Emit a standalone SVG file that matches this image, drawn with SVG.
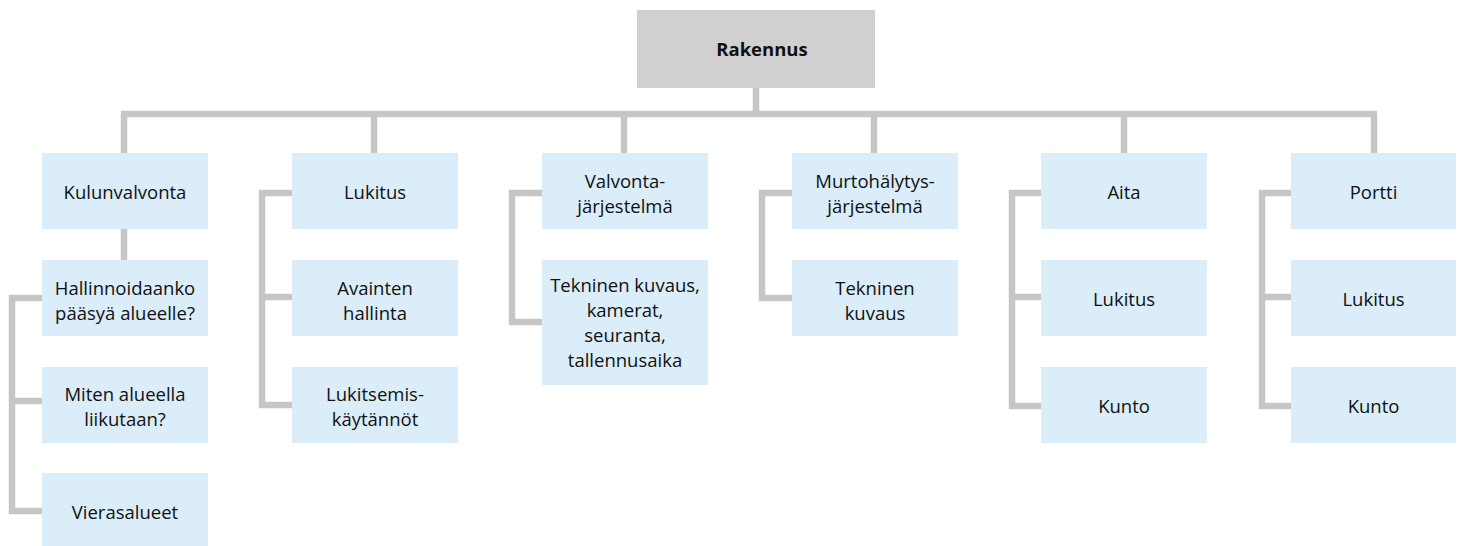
<svg xmlns="http://www.w3.org/2000/svg" width="1461" height="546" viewBox="0 0 1461 546">
  <style>
    .box { fill: #daedf9; }
    .root { fill: #d0d0d0; }
    .t { font-family: "Open Sans", "Noto Sans", "Liberation Sans", sans-serif; font-size: 18.5px; fill: #111111; text-anchor: middle; }
    .tb { font-family: "Open Sans", "Noto Sans", "Liberation Sans", sans-serif; font-size: 18.5px; font-weight: bold; fill: #111111; text-anchor: middle; }
    .c { fill: none; stroke: #c6c6c6; stroke-width: 6.5; stroke-linejoin: miter; stroke-linecap: butt; }
  </style>
  <rect width="1461" height="546" fill="#ffffff"/>

  <g id="connectors">
    <path class="c" d="M756 88 V114"/>
    <path class="c" d="M121 114 H1377"/>
    <path class="c" d="M124 114 V153 M374 114 V153 M624 114 V153 M874 114 V153 M1124 114 V153 M1374 114 V153"/>
    <path class="c" d="M124 229 V260"/>
    <path class="c" d="M42 298 H12 V511 H42"/>
    <path class="c" d="M12 401 H42"/>
    <path class="c" d="M292 193 H262 V405 H292"/>
    <path class="c" d="M262 297 H292"/>
    <path class="c" d="M542 193 H512 V322 H542"/>
    <path class="c" d="M792 193 H762 V298 H792"/>
    <path class="c" d="M1041 193 H1012 V406 H1041"/>
    <path class="c" d="M1012 297 H1041"/>
    <path class="c" d="M1291 193 H1262 V406 H1291"/>
    <path class="c" d="M1262 297 H1291"/>
  </g>

  <g id="n-rakennus">
    <rect class="root" x="637" y="10" width="238" height="78"/>
    <text class="tb" x="762" y="56">Rakennus</text>
  </g>

  <g id="n-kulunvalvonta">
    <rect class="box" x="42" y="153" width="166" height="76"/>
    <text class="t" x="125" y="199">Kulunvalvonta</text>
  </g>
  <g id="n-hallinnoidaanko">
    <rect class="box" x="42" y="260" width="166" height="76"/>
    <text class="t" x="125" y="295">Hallinnoidaanko</text>
    <text class="t" x="125" y="319.5">pääsyä alueelle?</text>
  </g>
  <g id="n-miten">
    <rect class="box" x="42" y="367" width="166" height="76"/>
    <text class="t" x="125" y="401">Miten alueella</text>
    <text class="t" x="125" y="425.5">liikutaan?</text>
  </g>
  <g id="n-vierasalueet">
    <rect class="box" x="42" y="473" width="166" height="76"/>
    <text class="t" x="125" y="519">Vierasalueet</text>
  </g>

  <g id="n-lukitus">
    <rect class="box" x="292" y="153" width="166" height="76"/>
    <text class="t" x="375" y="199">Lukitus</text>
  </g>
  <g id="n-avainten">
    <rect class="box" x="292" y="260" width="166" height="76"/>
    <text class="t" x="375" y="295">Avainten</text>
    <text class="t" x="375" y="319.5">hallinta</text>
  </g>
  <g id="n-lukitsemis">
    <rect class="box" x="292" y="367" width="166" height="76"/>
    <text class="t" x="375" y="401">Lukitsemis-</text>
    <text class="t" x="375" y="425.5">käytännöt</text>
  </g>

  <g id="n-valvonta">
    <rect class="box" x="542" y="153" width="166" height="76"/>
    <text class="t" x="625" y="188">Valvonta-</text>
    <text class="t" x="625" y="212.5">järjestelmä</text>
  </g>
  <g id="n-tekninen1">
    <rect class="box" x="542" y="260" width="166" height="125"/>
    <text class="t" x="625" y="291.7">Tekninen kuvaus,</text>
    <text class="t" x="625" y="316.7">kamerat,</text>
    <text class="t" x="625" y="341.7">seuranta,</text>
    <text class="t" x="625" y="366.7">tallennusaika</text>
  </g>

  <g id="n-murto">
    <rect class="box" x="792" y="153" width="166" height="76"/>
    <text class="t" x="875" y="188">Murtohälytys-</text>
    <text class="t" x="875" y="212.5">järjestelmä</text>
  </g>
  <g id="n-tekninen2">
    <rect class="box" x="792" y="260" width="166" height="76"/>
    <text class="t" x="875" y="295">Tekninen</text>
    <text class="t" x="875" y="319.5">kuvaus</text>
  </g>

  <g id="n-aita">
    <rect class="box" x="1041" y="153" width="166" height="76"/>
    <text class="t" x="1124" y="199">Aita</text>
  </g>
  <g id="n-aita-lukitus">
    <rect class="box" x="1041" y="260" width="166" height="76"/>
    <text class="t" x="1124" y="306">Lukitus</text>
  </g>
  <g id="n-aita-kunto">
    <rect class="box" x="1041" y="367" width="166" height="76"/>
    <text class="t" x="1124" y="413">Kunto</text>
  </g>

  <g id="n-portti">
    <rect class="box" x="1291" y="153" width="165" height="76"/>
    <text class="t" x="1373.5" y="199">Portti</text>
  </g>
  <g id="n-portti-lukitus">
    <rect class="box" x="1291" y="260" width="165" height="76"/>
    <text class="t" x="1373.5" y="306">Lukitus</text>
  </g>
  <g id="n-portti-kunto">
    <rect class="box" x="1291" y="367" width="165" height="76"/>
    <text class="t" x="1373.5" y="413">Kunto</text>
  </g>
</svg>
